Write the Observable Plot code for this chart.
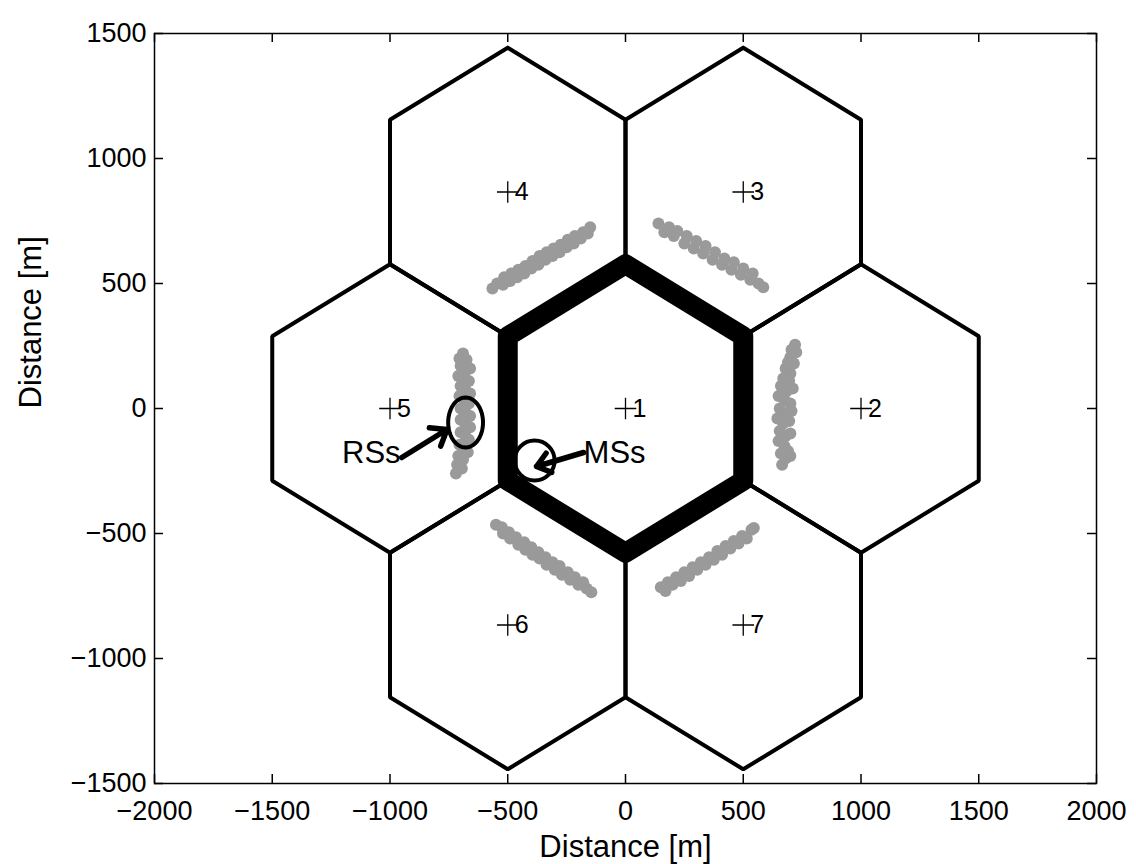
<!DOCTYPE html>
<html>
<head>
<meta charset="utf-8">
<script src="https://cdn.jsdelivr.net/npm/d3@7"></script>
<script src="https://cdn.jsdelivr.net/npm/@observablehq/plot@0.6"></script>
<style>
  html, body { margin: 0; padding: 0; background: white; }
  #chart { width: 1136px; height: 864px; }
</style>
</head>
<body>
<div id="chart"></div>
<script>
// ---- data (metres) ----
const xTicks = [-2000, -1500, -1000, -500, 0, 500, 1000, 1500, 2000];
const yTicks = [-1500, -1000, -500, 0, 500, 1000, 1500];
const axisLabel = "Distance [m]";

// cell centres
const cellIds = [1, 2, 3, 4, 5, 6, 7];
const cellX = [0, 1000, 500, -500, -1000, -500, 500];
const cellY = [0, 0, 866, 866, 0, -866, -866];

// hexagon vertex offsets from centre (pointy top), closed ring
const hexDX = [0, 500, 500, 0, -500, -500, 0];
const hexDY = [577, 289, -289, -577, -289, 289, 577];

// relay stations (grey clusters), one list per neighbouring cell
const rsCell2 = [[720,255],[705,235],[725,225],[700,205],[690,185],[715,180],[680,160],[700,140],[670,120],[695,110],[660,90],[685,70],[710,80],[650,50],[675,35],[700,20],[655,0],[680,-20],[705,-10],[645,-40],[670,-60],[695,-50],[655,-90],[680,-110],[700,-100],[650,-130],[675,-150],[690,-170],[660,-180],[680,-200],[665,-225],[700,-190]];
const rsCell3 = [[140,740],[165,705],[185,725],[205,690],[220,710],[250,660],[260,690],[290,640],[300,670],[330,620],[340,650],[370,595],[380,625],[410,575],[420,600],[450,555],[460,585],[490,535],[500,560],[530,515],[540,540],[565,500],[585,485]];
const rsCell4 = [[-565,480],[-545,500],[-520,495],[-515,525],[-490,510],[-485,540],[-460,525],[-455,555],[-430,540],[-425,570],[-400,560],[-395,590],[-370,575],[-365,610],[-340,595],[-335,625],[-310,610],[-305,640],[-280,625],[-275,655],[-250,645],[-245,675],[-220,660],[-215,690],[-190,680],[-180,705],[-160,700],[-150,725]];
const rsCell5 = [[-690,220],[-705,200],[-675,195],[-700,170],[-680,150],[-660,160],[-710,130],[-690,120],[-665,110],[-700,90],[-680,75],[-660,60],[-705,50],[-685,35],[-665,20],[-700,0],[-680,-15],[-660,-30],[-700,-45],[-680,-60],[-660,-75],[-700,-95],[-680,-110],[-665,-125],[-705,-145],[-685,-160],[-670,-175],[-710,-190],[-690,-205],[-715,-225],[-695,-240],[-720,-260]];
const rsCell6 = [[-550,-465],[-525,-475],[-520,-500],[-495,-495],[-490,-520],[-465,-515],[-455,-545],[-430,-535],[-425,-565],[-400,-555],[-395,-585],[-370,-575],[-365,-600],[-340,-595],[-335,-625],[-310,-615],[-300,-645],[-280,-630],[-270,-665],[-245,-655],[-235,-685],[-215,-675],[-200,-705],[-180,-695],[-165,-720],[-145,-735]];
const rsCell7 = [[150,-715],[170,-730],[180,-695],[200,-705],[215,-675],[235,-690],[250,-655],[270,-670],[285,-635],[305,-645],[320,-615],[340,-625],[355,-595],[375,-605],[390,-570],[410,-585],[425,-550],[445,-560],[460,-530],[480,-540],[495,-510],[515,-520],[535,-485],[545,-478]];

// annotations (data coordinates)
const rsEllipse = {x: -679, y: -56, rx: 74, ry: 100};
const msCircle = {x: -386, y: -208};
const annotLabels = ["RSs", "MSs"];
const annotLabelX = [-955, -178];
const annotLabelY = [-178, -178];
const arrowFromX = [-950, -178];
const arrowFromY = [-196, -176];
const arrowToX = [-758, -378];
const arrowToY = [-84, -232];

// ---- derived tables ----
const hexRows = [];
cellIds.forEach((id, i) => {
  hexDX.forEach((dx, k) => hexRows.push({cell: id, x: cellX[i] + dx, y: cellY[i] + hexDY[k]}));
});
const centreHex = hexRows.filter(d => d.cell === 1);
const cells = cellIds.map((id, i) => ({id, x: cellX[i], y: cellY[i]}));
const rsRows = [rsCell2, rsCell3, rsCell4, rsCell5, rsCell6, rsCell7].flat().map(([x, y]) => ({x, y}));
const ellipseRows = d3.range(0, 361, 6).map(a => ({
  x: rsEllipse.x + rsEllipse.rx * Math.cos(a * Math.PI / 180),
  y: rsEllipse.y + rsEllipse.ry * Math.sin(a * Math.PI / 180)
}));
const arrows = arrowFromX.map((_, i) => ({x1: arrowFromX[i], y1: arrowFromY[i], x2: arrowToX[i], y2: arrowToY[i]}));
const labels = annotLabels.map((t, i) => ({t, x: annotLabelX[i], y: annotLabelY[i]}));

const fmt = d => d < 0 ? "\u2212" + Math.abs(d) : String(d);
const tickLen = 9;
const plotW = 1136 - 154 - 40;
const plotH = 864 - 33 - 81;

const chart = Plot.plot({
  width: 1136,
  height: 864,
  marginLeft: 154,
  marginRight: 40,
  marginTop: 33,
  marginBottom: 81,
  x: {domain: [-2000, 2000]},
  y: {domain: [-1500, 1500]},
  style: {fontFamily: "'Liberation Sans', Arial, Helvetica, sans-serif", background: "white", color: "black"},
  marks: [
    // relay stations
    Plot.dot(rsRows, {x: "x", y: "y", r: 6, fill: "#9a9a9a", stroke: "none"}),
    // hexagonal cells
    Plot.line(hexRows, {x: "x", y: "y", z: "cell", stroke: "black", strokeWidth: 4, strokeLinejoin: "miter"}),
    // mobile stations along the centre cell boundary
    Plot.line(centreHex, {x: "x", y: "y", stroke: "black", strokeWidth: 20, strokeLinejoin: "round"}),
    // cell centre markers & numbers
    Plot.dot(cells, {x: "x", y: "y", symbol: "plus", r: 7, stroke: "black", strokeWidth: 1.3}),
    Plot.text(cells, {x: "x", y: "y", text: d => String(d.id), dx: 7, textAnchor: "start", lineAnchor: "middle", fontSize: 25, fill: "black"}),
    // annotations
    Plot.line(ellipseRows, {x: "x", y: "y", stroke: "black", strokeWidth: 4}),
    Plot.dot([msCircle], {x: "x", y: "y", r: 20, stroke: "black", strokeWidth: 4, fill: "none"}),
    Plot.arrow(arrows, {x1: "x1", y1: "y1", x2: "x2", y2: "y2", stroke: "black", strokeWidth: 5.5, headLength: 18, headAngle: 75}),
    Plot.text(labels.filter(d => d.t === "RSs"), {x: "x", y: "y", text: "t", textAnchor: "end", lineAnchor: "middle", fontSize: 31, fill: "black"}),
    Plot.text(labels.filter(d => d.t === "MSs"), {x: "x", y: "y", text: "t", textAnchor: "start", lineAnchor: "middle", fontSize: 31, fill: "black"}),
    // frame and inward ticks
    Plot.frame({stroke: "black", strokeWidth: 1.5}),
    Plot.ruleX(xTicks, {x: d => d, insetTop: plotH - tickLen, stroke: "black", strokeWidth: 1.5}),
    Plot.ruleX(xTicks, {x: d => d, insetBottom: plotH - tickLen, stroke: "black", strokeWidth: 1.5}),
    Plot.ruleY(yTicks, {y: d => d, insetRight: plotW - tickLen, stroke: "black", strokeWidth: 1.5}),
    Plot.ruleY(yTicks, {y: d => d, insetLeft: plotW - tickLen, stroke: "black", strokeWidth: 1.5}),
    // tick labels
    Plot.axisX({ticks: xTicks, anchor: "bottom", tickSize: 0, tickPadding: 17, fontSize: 27, tickFormat: fmt, label: null}),
    Plot.axisY({ticks: yTicks, anchor: "left", tickSize: 0, tickPadding: 8, fontSize: 27, tickFormat: fmt, label: null}),
    // axis titles
    Plot.text([axisLabel], {frameAnchor: "bottom", dy: 64, lineAnchor: "middle", fontSize: 31, fill: "black"}),
    Plot.text([axisLabel], {frameAnchor: "left", dx: -123, rotate: -90, lineAnchor: "middle", fontSize: 31, fill: "black"})
  ]
});
document.getElementById("chart").appendChild(chart);
</script>
</body>
</html>
